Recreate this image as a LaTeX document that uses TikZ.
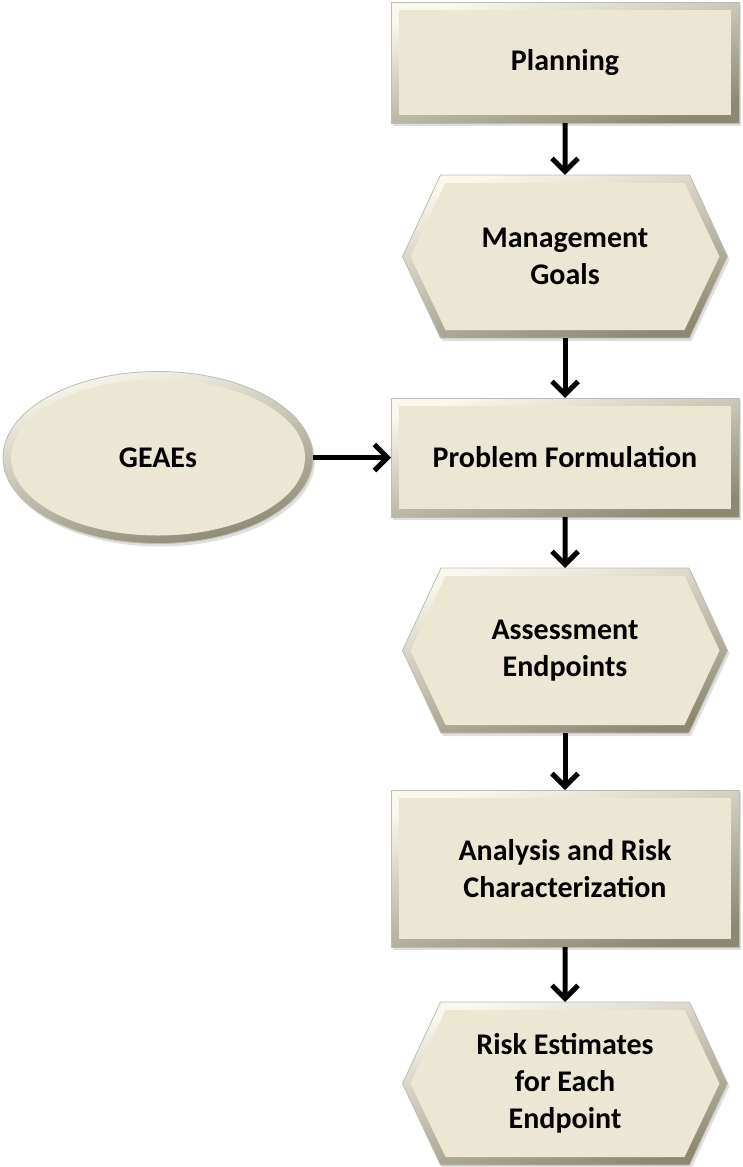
\documentclass[tikz,border=0pt]{standalone}
\usepackage{fontspec}
\setmainfont{Carlito}
\usetikzlibrary{arrows.meta,positioning,shapes.geometric,shapes.symbols,shadows}

\definecolor{facefill}{RGB}{235,231,211}
\definecolor{bevtop}{RGB}{250,248,238}
\definecolor{bevbot}{RGB}{140,136,114}
\definecolor{bevline}{RGB}{190,188,178}

\begin{document}
\begin{tikzpicture}[>={Straight Barb[length=13pt,width=26pt,line width=5pt]},outer sep=0pt,
    font=\bfseries\fontsize{30}{37}\selectfont]
  \tikzstyle{bevel}=[draw=bevline,line width=0.8pt,top color=bevtop,bottom color=bevbot,shading angle=15,
    drop shadow={shadow xshift=2pt,shadow yshift=-3pt,opacity=0.25}]
  \tikzstyle{stage}=[bevel,rectangle,minimum width=348pt,align=center,
    path picture={\fill[facefill] ([shift={(8pt,8pt)}]path picture bounding box.south west)
      rectangle ([shift={(-8pt,-8pt)}]path picture bounding box.north east);}]
  \tikzstyle{hexa}=[bevel,signal,signal to=east and west,signal pointer angle=130,
    minimum width=325pt,minimum height=163pt,align=center,
    path picture={\fill[facefill] ([xshift=8pt]path picture bounding box.west)
      -- ([shift={(43pt,-8pt)}]path picture bounding box.north west)
      -- ([shift={(-43pt,-8pt)}]path picture bounding box.north east)
      -- ([xshift=-8pt]path picture bounding box.east)
      -- ([shift={(-43pt,8pt)}]path picture bounding box.south east)
      -- ([shift={(43pt,8pt)}]path picture bounding box.south west) -- cycle;}]
  \tikzstyle{oval}=[bevel,ellipse,minimum width=310pt,minimum height=172pt,
    path picture={\fill[facefill] (path picture bounding box.center) ellipse [x radius=147pt,y radius=78pt];}]
  \tikzstyle{every edge}=[draw,line width=5pt]

    \useasboundingbox (0,0) rectangle (743pt,-1167pt);
    \node [stage,minimum height=121pt] (plan) at (565pt,-62.5pt) {Planning};
    \node [hexa] (goals) [below=52pt of plan] {Management\\Goals}
        edge [<-] (plan);
    \node [stage,minimum height=119pt] (prob) [below=60pt of goals] {Problem Formulation}
        edge [<-] (goals);
    \node [oval] (geaes) [left=78pt of prob] {GEAEs}
        edge [->] (prob);
    \node [hexa,minimum height=165pt] (assess) [below=51pt of prob] {Assessment\\Endpoints}
        edge [<-] (prob);
    \node [stage,minimum height=157pt] (anal) [below=57pt of assess] {Analysis and Risk\\Characterization}
        edge [<-] (assess);
    \node [hexa] (risk) [below=55pt of anal] {Risk Estimates\\for Each\\Endpoint}
        edge [<-] (anal);
\end{tikzpicture}
\end{document}
